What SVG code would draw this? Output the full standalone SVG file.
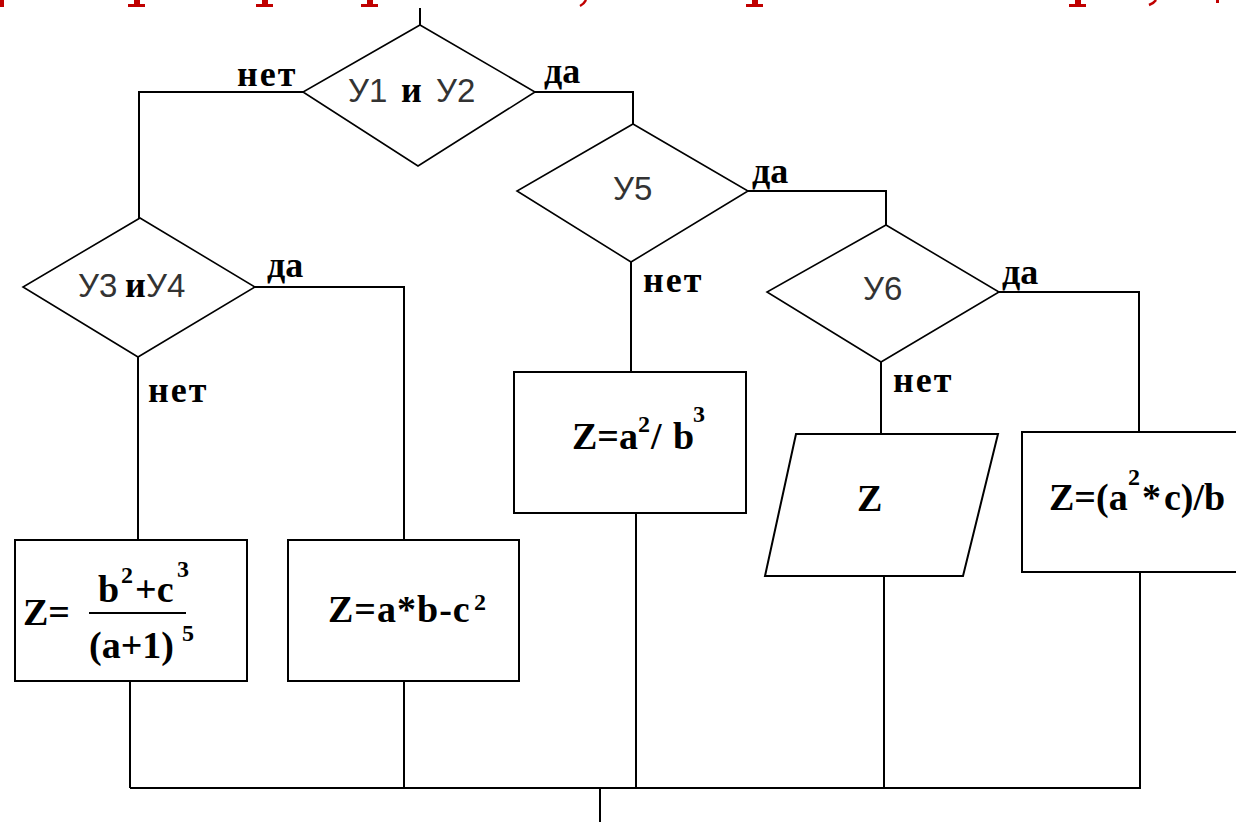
<svg xmlns="http://www.w3.org/2000/svg" width="1236" height="822" viewBox="0 0 1236 822">
<style>
.ln{fill:none;stroke:#000;stroke-width:2}
.sh{fill:#fff;stroke:#000;stroke-width:2}
.dm{fill:#fff;stroke:#000;stroke-width:1.6}
.lbl{font-family:"Liberation Serif",serif;font-weight:bold;font-size:36px;fill:#000}
.f{font-family:"Liberation Serif",serif;font-weight:bold;font-size:38px;fill:#000}
.sup{font-family:"Liberation Serif",serif;font-weight:bold;font-size:24px;fill:#000}
.cs{font-family:"Liberation Sans",Arial,sans-serif;font-size:33px;fill:#333}
.red{fill:#c00000}
</style>
<rect width="1236" height="822" fill="#fff"/>
<g id="title-fragments" class="red">
<rect x="0" y="0" width="4" height="7"/>
<rect x="134" y="0" width="6" height="5"/><rect x="128" y="4" width="17" height="3"/>
<rect x="262" y="0" width="6" height="5"/><rect x="256" y="4" width="17" height="3"/>
<rect x="367" y="0" width="6" height="5"/><rect x="361" y="4" width="17" height="3"/>
<path d="M586,0 Q584,4 580,6" fill="none" stroke="#c00000" stroke-width="2.5"/>
<rect x="752" y="0" width="6" height="5"/><rect x="746" y="4" width="17" height="3"/>
<rect x="1075" y="0" width="6" height="5"/><rect x="1069" y="4" width="17" height="3"/>
<path d="M1156,0 Q1154,3 1149,5" fill="none" stroke="#c00000" stroke-width="2.5"/>
<rect x="1216" y="0" width="3" height="3"/>
</g>
<g id="connectors" class="ln">
<path d="M420,8 V25"/>
<path d="M303,92 H139 V218"/>
<path d="M535,92 H633 V124"/>
<path d="M255,287 H404 V540"/>
<path d="M138,357 V540"/>
<path d="M748,191 H886 V225"/>
<path d="M631,262 V372"/>
<path d="M999,292 H1139 V432"/>
<path d="M881,362 V434"/>
<path d="M130,681 V788"/>
<path d="M404,681 V788"/>
<path d="M636,513 V788"/>
<path d="M884,576 V788"/>
<path d="M1140,572 V788"/>
<path d="M130,788 H1141"/>
<path d="M600,788 V822"/>
</g>
<g id="labels">
<text class="lbl" x="237" y="86" letter-spacing="2">нет</text>
<text class="lbl" x="544" y="83">да</text>
<text class="lbl" x="267" y="277">да</text>
<text class="lbl" x="148" y="402" letter-spacing="2">нет</text>
<text class="lbl" x="752" y="183">да</text>
<text class="lbl" x="643" y="292" letter-spacing="2">нет</text>
<text class="lbl" x="1002" y="284">да</text>
<text class="lbl" x="893" y="392" letter-spacing="2">нет</text>
</g>
<g id="d1">
<polygon class="dm" points="420,25 535,92 418,166 303,92"/>
<text class="cs" x="348" y="102">У1</text>
<text class="lbl" x="401" y="102">и</text>
<text class="cs" x="436" y="102">У2</text>
</g>
<g id="d2">
<polygon class="dm" points="140,218 255,287 138,357 23,287"/>
<text class="cs" x="78" y="297">У3</text>
<text class="lbl" x="125" y="297">и</text>
<text class="cs" x="146" y="297">У4</text>
</g>
<g id="d5">
<polygon class="dm" points="633,124 748,191 631,262 517,191"/>
<text class="cs" x="613" y="200">У5</text>
</g>
<g id="d6">
<polygon class="dm" points="886,225 999,292 881,362 767,292"/>
<text class="cs" x="863" y="300">У6</text>
</g>
<g id="b1">
<rect class="sh" x="15" y="540" width="232" height="141"/>
<text class="f" x="23" y="625">Z=</text>
<text class="f" x="98" y="602">b</text>
<text class="sup" x="121" y="583">2</text>
<text class="f" x="135" y="602">+c</text>
<text class="sup" x="177" y="577">3</text>
<path class="ln" d="M89,613 H186"/>
<text class="f" x="89" y="658">(a+1)</text>
<text class="sup" x="182" y="641">5</text>
</g>
<g id="b2">
<rect class="sh" x="288" y="540" width="231" height="141"/>
<text class="f" x="328" y="622" letter-spacing="1">Z=a*b-c</text>
<text class="sup" x="474" y="610">2</text>
</g>
<g id="b3">
<rect class="sh" x="514" y="372" width="232" height="141"/>
<text class="f" x="572" y="449">Z=a</text>
<text class="sup" x="638" y="432">2</text>
<text class="f" x="651" y="449">/</text>
<text class="f" x="673" y="449">b</text>
<text class="sup" x="693" y="422">3</text>
</g>
<g id="p-out">
<polygon class="sh" points="796,434 998,434 963,576 765,576"/>
<text class="f" x="857" y="511">Z</text>
</g>
<g id="b6">
<rect class="sh" x="1022" y="432" width="240" height="140"/>
<text class="f" x="1049" y="510">Z=(a</text>
<text class="sup" x="1128" y="485">2</text>
<text class="f" x="1142" y="510" font-size="30">*</text>
<text class="f" x="1164" y="510">c)/b</text>
</g>
</svg>
